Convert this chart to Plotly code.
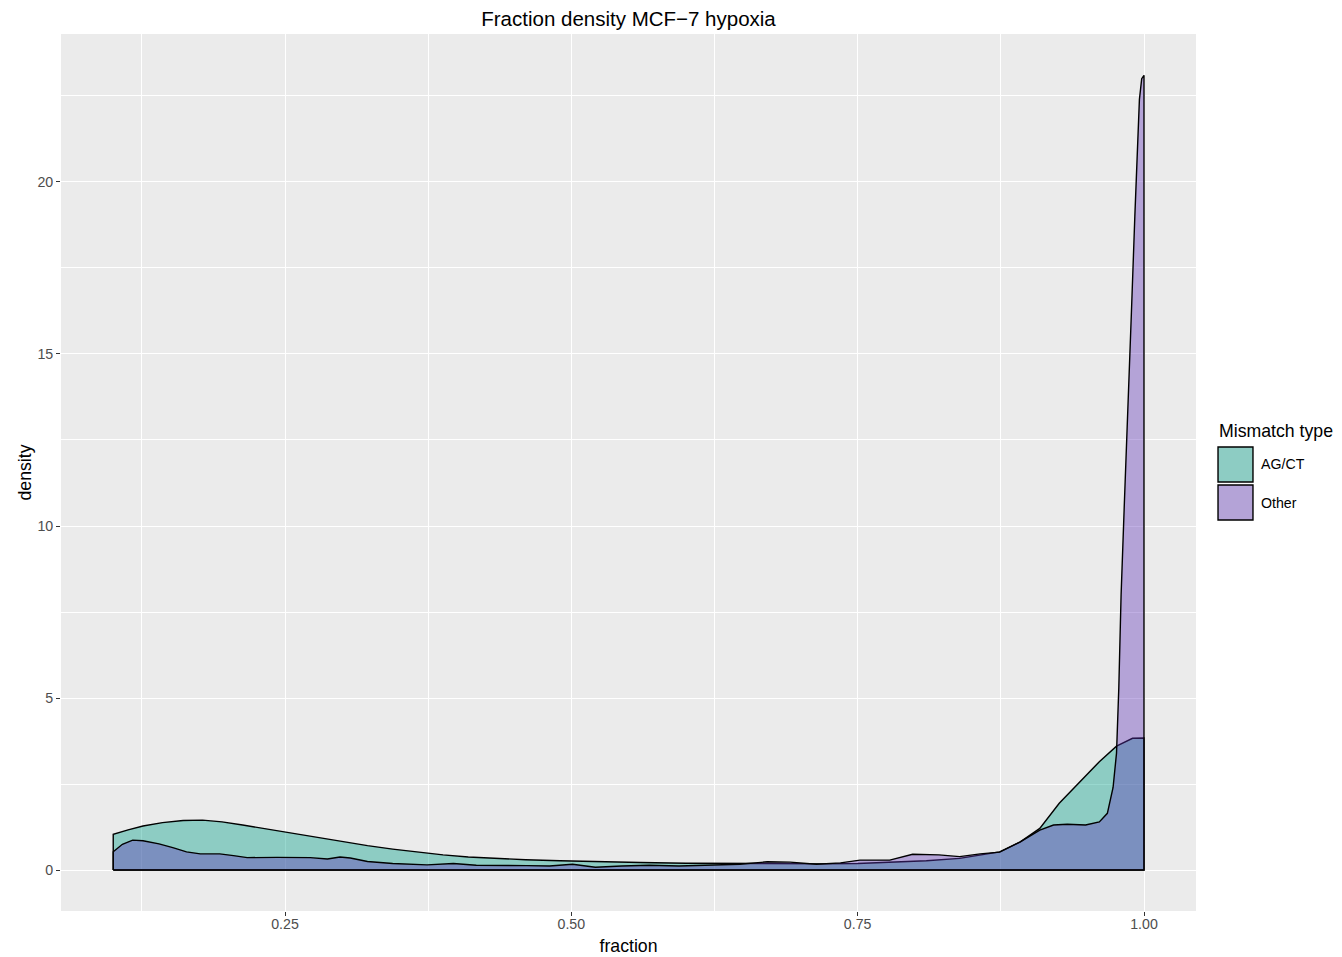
import plotly.graph_objects as go

# ---- data ----
agct_x = [0.100, 0.113, 0.126, 0.143, 0.161, 0.178, 0.195, 0.213, 0.235, 0.257,
          0.280, 0.301, 0.322, 0.344, 0.366, 0.388, 0.410, 0.432, 0.460, 0.490,
          0.525, 0.560, 0.600, 0.640, 0.680, 0.720, 0.750, 0.780, 0.810, 0.839,
          0.858, 0.874, 0.892, 0.909, 0.926, 0.944, 0.961, 0.976, 0.990, 1.000]
agct_y = [1.04, 1.17, 1.28, 1.38, 1.44, 1.45, 1.40, 1.31, 1.19, 1.07,
          0.94, 0.82, 0.71, 0.61, 0.52, 0.44, 0.38, 0.34, 0.30, 0.27,
          0.24, 0.22, 0.20, 0.19, 0.18, 0.18, 0.19, 0.22, 0.27, 0.34,
          0.44, 0.53, 0.82, 1.21, 1.94, 2.57, 3.15, 3.60, 3.83, 3.84]

other_x = [0.100, 0.108, 0.117, 0.126, 0.140, 0.152, 0.164, 0.176, 0.193, 0.205,
           0.217, 0.243, 0.272, 0.287, 0.298, 0.307, 0.322, 0.344, 0.374, 0.397,
           0.417, 0.461, 0.481, 0.501, 0.521, 0.544, 0.568, 0.594, 0.618, 0.647,
           0.671, 0.691, 0.714, 0.735, 0.752, 0.778, 0.798, 0.821, 0.839, 0.857,
           0.874, 0.892, 0.909, 0.921, 0.933, 0.949, 0.961, 0.968, 0.973, 0.976,
           0.978, 0.980, 0.983, 0.986, 0.989, 0.992, 0.994, 0.996, 0.998, 1.000]
other_y = [0.53, 0.75, 0.87, 0.85, 0.76, 0.65, 0.53, 0.47, 0.47, 0.42,
           0.36, 0.37, 0.36, 0.32, 0.38, 0.35, 0.25, 0.19, 0.15, 0.19,
           0.14, 0.13, 0.12, 0.17, 0.08, 0.12, 0.14, 0.12, 0.15, 0.17,
           0.24, 0.23, 0.17, 0.21, 0.29, 0.29, 0.46, 0.44, 0.39, 0.47,
           0.52, 0.82, 1.16, 1.31, 1.33, 1.31, 1.40, 1.65, 2.40, 3.40,
           5.30, 8.00, 10.8, 13.3, 16.2, 19.0, 21.0, 22.4, 23.0, 23.1]

series_names = ["AG/CT", "Other"]
fill_colors = ["rgba(0,157,135,0.4)", "rgba(97,55,185,0.4)"]

x_ticks = [0.25, 0.50, 0.75, 1.00]
x_labels = ["0.25", "0.50", "0.75", "1.00"]
y_ticks = [0, 5, 10, 15, 20]

FONT = "Liberation Sans, Arial, sans-serif"

fig = go.Figure()
for name, xs, ys, fc in [(series_names[0], agct_x, agct_y, fill_colors[0]),
                         (series_names[1], other_x, other_y, fill_colors[1])]:
    px = [xs[0]] + list(xs) + [xs[-1], xs[0]]
    py = [0] + list(ys) + [0, 0]
    fig.add_trace(go.Scatter(
        x=px, y=py, name=name, mode="lines", fill="toself",
        fillcolor=fc, line=dict(color="black", width=1.4),
        hoverinfo="skip", showlegend=False))

# ---- legend drawn in paper coordinates (ggplot-style keys) ----
key_x0, key_x1 = 1.0194, 1.0502
key_rows = [(0.5291, 0.4892), (0.4857, 0.4458)]
shapes = []
annotations = [dict(text="Mismatch type", xref="paper", yref="paper",
                    x=1.0185, y=0.5473, xanchor="left", yanchor="middle",
                    showarrow=False, font=dict(size=17.7, color="black", family=FONT))]
for (yt, yb), name, fc in zip(key_rows, series_names, fill_colors):
    shapes.append(dict(type="rect", xref="paper", yref="paper", x0=key_x0, x1=key_x1,
                       y0=yb, y1=yt, fillcolor="#EBEBEB", line=dict(width=0)))
    shapes.append(dict(type="rect", xref="paper", yref="paper", x0=key_x0, x1=key_x1,
                       y0=yb, y1=yt, fillcolor=fc, line=dict(color="black", width=1.4)))
    annotations.append(dict(text=name, xref="paper", yref="paper", x=1.0555,
                            y=(yt + yb) / 2, xanchor="left", yanchor="middle",
                            showarrow=False,
                            font=dict(size=14.2, color="black", family=FONT)))

grid_major = dict(showgrid=True, gridcolor="white", gridwidth=1.4)
fig.update_layout(
    width=1334, height=949,
    margin=dict(l=53, r=146, t=26, b=46, autoexpand=False),
    paper_bgcolor="white", plot_bgcolor="#EBEBEB",
    font=dict(family=FONT),
    showlegend=False,
    shapes=shapes, annotations=annotations,
    title=dict(text="Fraction density MCF\u22127 hypoxia", x=0.5, xref="paper",
               xanchor="center", y=1 - 11 / 949, yanchor="middle",
               font=dict(size=20.5, color="black")),
    xaxis=dict(range=[0.0544, 1.0454], tickvals=x_ticks, ticktext=x_labels,
               ticks="outside", ticklen=4, tickcolor="#333333", tickwidth=1.2,
               ticklabelstandoff=-4,
               tickfont=dict(size=14.2, color="#4D4D4D"), zeroline=False,
               showline=False,
               minor=dict(tickvals=[0.125, 0.375, 0.625, 0.875], showgrid=True,
                          gridcolor="white", gridwidth=0.7, ticks=""),
               title=dict(text="fraction", font=dict(size=17.7, color="black"),
                          standoff=8),
               **grid_major),
    yaxis=dict(range=[-1.19, 24.3], tickvals=y_ticks,
               ticks="outside", ticklen=4, tickcolor="#333333", tickwidth=1.2,
               ticklabelstandoff=0,
               tickfont=dict(size=14.2, color="#4D4D4D"), zeroline=False,
               showline=False,
               minor=dict(tickvals=[2.5, 7.5, 12.5, 17.5, 22.5], showgrid=True,
                          gridcolor="white", gridwidth=0.7, ticks=""),
               title=dict(text="density", font=dict(size=17.7, color="black"),
                          standoff=1),
               **grid_major),
)

fig.write_html("out.html")
